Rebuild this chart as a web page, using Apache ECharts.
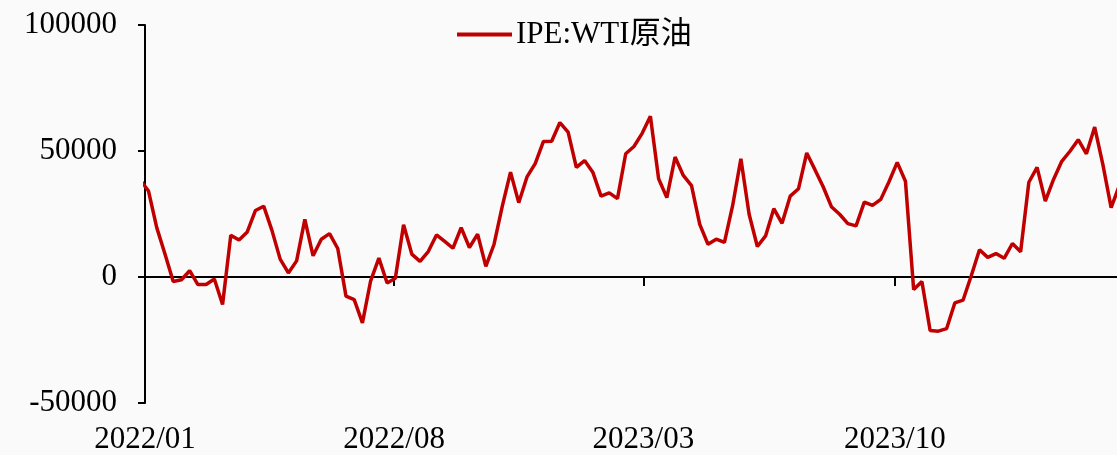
<!DOCTYPE html>
<html>
<head>
<meta charset="utf-8">
<script src="https://cdn.jsdelivr.net/npm/echarts@6/dist/echarts.min.js"></script>
<style>
  html, body { margin: 0; padding: 0; background: #fafafa; }
  #chart { width: 1117px; height: 455px; }
</style>
</head>
<body>
<div id="chart"></div>
<script>
// Weekly net positions, one value per Tuesday starting 2021-12-28
const firstWeek = '2021-12-28';
const seriesName = 'IPE:WTI原油';
const netPosition = [
  38500, 34100, 19600, 9100, -1800, -1100, 2500, -3000, -3000, -800,
  -10900, 16600, 14700, 17900, 26400, 28100, 18500, 7100, 1600, 6400,
  22900, 8400, 15000, 17200, 11300, -7600, -9000, -18200, -1500, 7500,
  -2400, -500, 20700, 9100, 6200, 10100, 16700, 14100, 11400, 19600,
  11700, 17000, 4200, 13000, 28100, 41600, 29500, 39700, 45000, 53800,
  53900, 61300, 57500, 43500, 46200, 41600, 32100, 33400, 31100, 48900,
  51800, 57000, 63800, 39000, 31500, 47600, 40300, 36300, 20900, 13000,
  15000, 13700, 28400, 46900, 24900, 12100, 16300, 27100, 21300, 32100,
  35000, 49200, 42600, 35800, 27900, 24900, 21200, 20300, 29700, 28400,
  30800, 37800, 45500, 38000, -5000, -1800, -21200, -21500, -20500, -10300,
  -9200, 500, 10800, 7800, 9300, 7400, 13300, 10000, 37600, 43500,
  30100, 38700, 45900, 49900, 54500, 48900, 59500, 44600, 27500, 36300
];
const tickMonths = ['2022/01', '2022/08', '2023/03', '2023/10'];
const yTicks = [-50000, 0, 50000, 100000];
const axisEnd = '2024-04-07';

const DAY = 86400000;
const origin = Date.UTC(2022, 0, 1);
function dayOffset(iso) {
  const [y, m, d] = iso.split('-').map(Number);
  return (Date.UTC(y, m - 1, d) - origin) / DAY;
}
// weekly dates for each value
const weeks = [];
{
  const [y, m, d] = firstWeek.split('-').map(Number);
  const t0 = Date.UTC(y, m - 1, d);
  for (let i = 0; i < netPosition.length; i++) {
    weeks.push(new Date(t0 + i * 7 * DAY).toISOString().slice(0, 10));
  }
}
const points = weeks.map((w, i) => [dayOffset(w), netPosition[i]]);
const tickDays = tickMonths.map(s => dayOffset(s.replace('/', '-') + '-01'));
const labelByDay = {};
tickDays.forEach((d, i) => { labelByDay[d] = tickMonths[i]; });

const FONT = '"Liberation Serif", "Times New Roman", "Noto Sans CJK SC", serif';
const RED = '#c00000';

const chart = echarts.init(document.getElementById('chart'), null, { renderer: 'canvas' });
chart.setOption({
  backgroundColor: '#fafafa',
  animation: false,
  textStyle: { fontFamily: FONT, color: '#000' },
  grid: { left: 145, right: 0, top: 25, bottom: 50, containLabel: false },
  legend: {
    data: [{ name: seriesName, icon: 'rect' }],
    left: 457,
    top: 19,
    padding: 0,
    itemWidth: 55,
    itemHeight: 4,
    itemGap: 10,
    itemStyle: { color: RED },
    textStyle: { fontFamily: FONT, fontSize: 31, color: '#000', padding: [0, 0, 0, -1] }
  },
  xAxis: [
    {
      type: 'value',
      min: 0,
      max: dayOffset(axisEnd),
      position: 'bottom',
      axisLine: { show: true, onZero: true, lineStyle: { color: '#000', width: 2 } },
      axisTick: { show: true, length: 9, customValues: tickDays, lineStyle: { color: '#000', width: 2 } },
      axisLabel: { show: false },
      splitLine: { show: false }
    },
    {
      type: 'value',
      min: 0,
      max: dayOffset(axisEnd),
      position: 'bottom',
      axisLine: { show: false, onZero: false },
      axisTick: { show: false },
      axisLabel: {
        show: true,
        customValues: tickDays,
        margin: 21,
        fontFamily: FONT,
        fontSize: 31,
        color: '#000',
        formatter: v => labelByDay[v] || ''
      },
      splitLine: { show: false }
    }
  ],
  yAxis: {
    type: 'value',
    min: yTicks[0],
    max: yTicks[yTicks.length - 1],
    interval: 50000,
    axisLine: { show: true, lineStyle: { color: '#000', width: 2 } },
    axisTick: { show: true, length: 7, lineStyle: { color: '#000', width: 2 } },
    axisLabel: {
      margin: 28,
      fontFamily: FONT,
      fontSize: 31,
      color: '#000',
      formatter: v => String(v)
    },
    splitLine: { show: false }
  },
  series: [{
    name: seriesName,
    type: 'line',
    xAxisIndex: 0,
    data: points,
    symbol: 'none',
    clip: true,
    lineStyle: { color: RED, width: 3.5 },
    itemStyle: { color: RED }
  }]
});
</script>
</body>
</html>
